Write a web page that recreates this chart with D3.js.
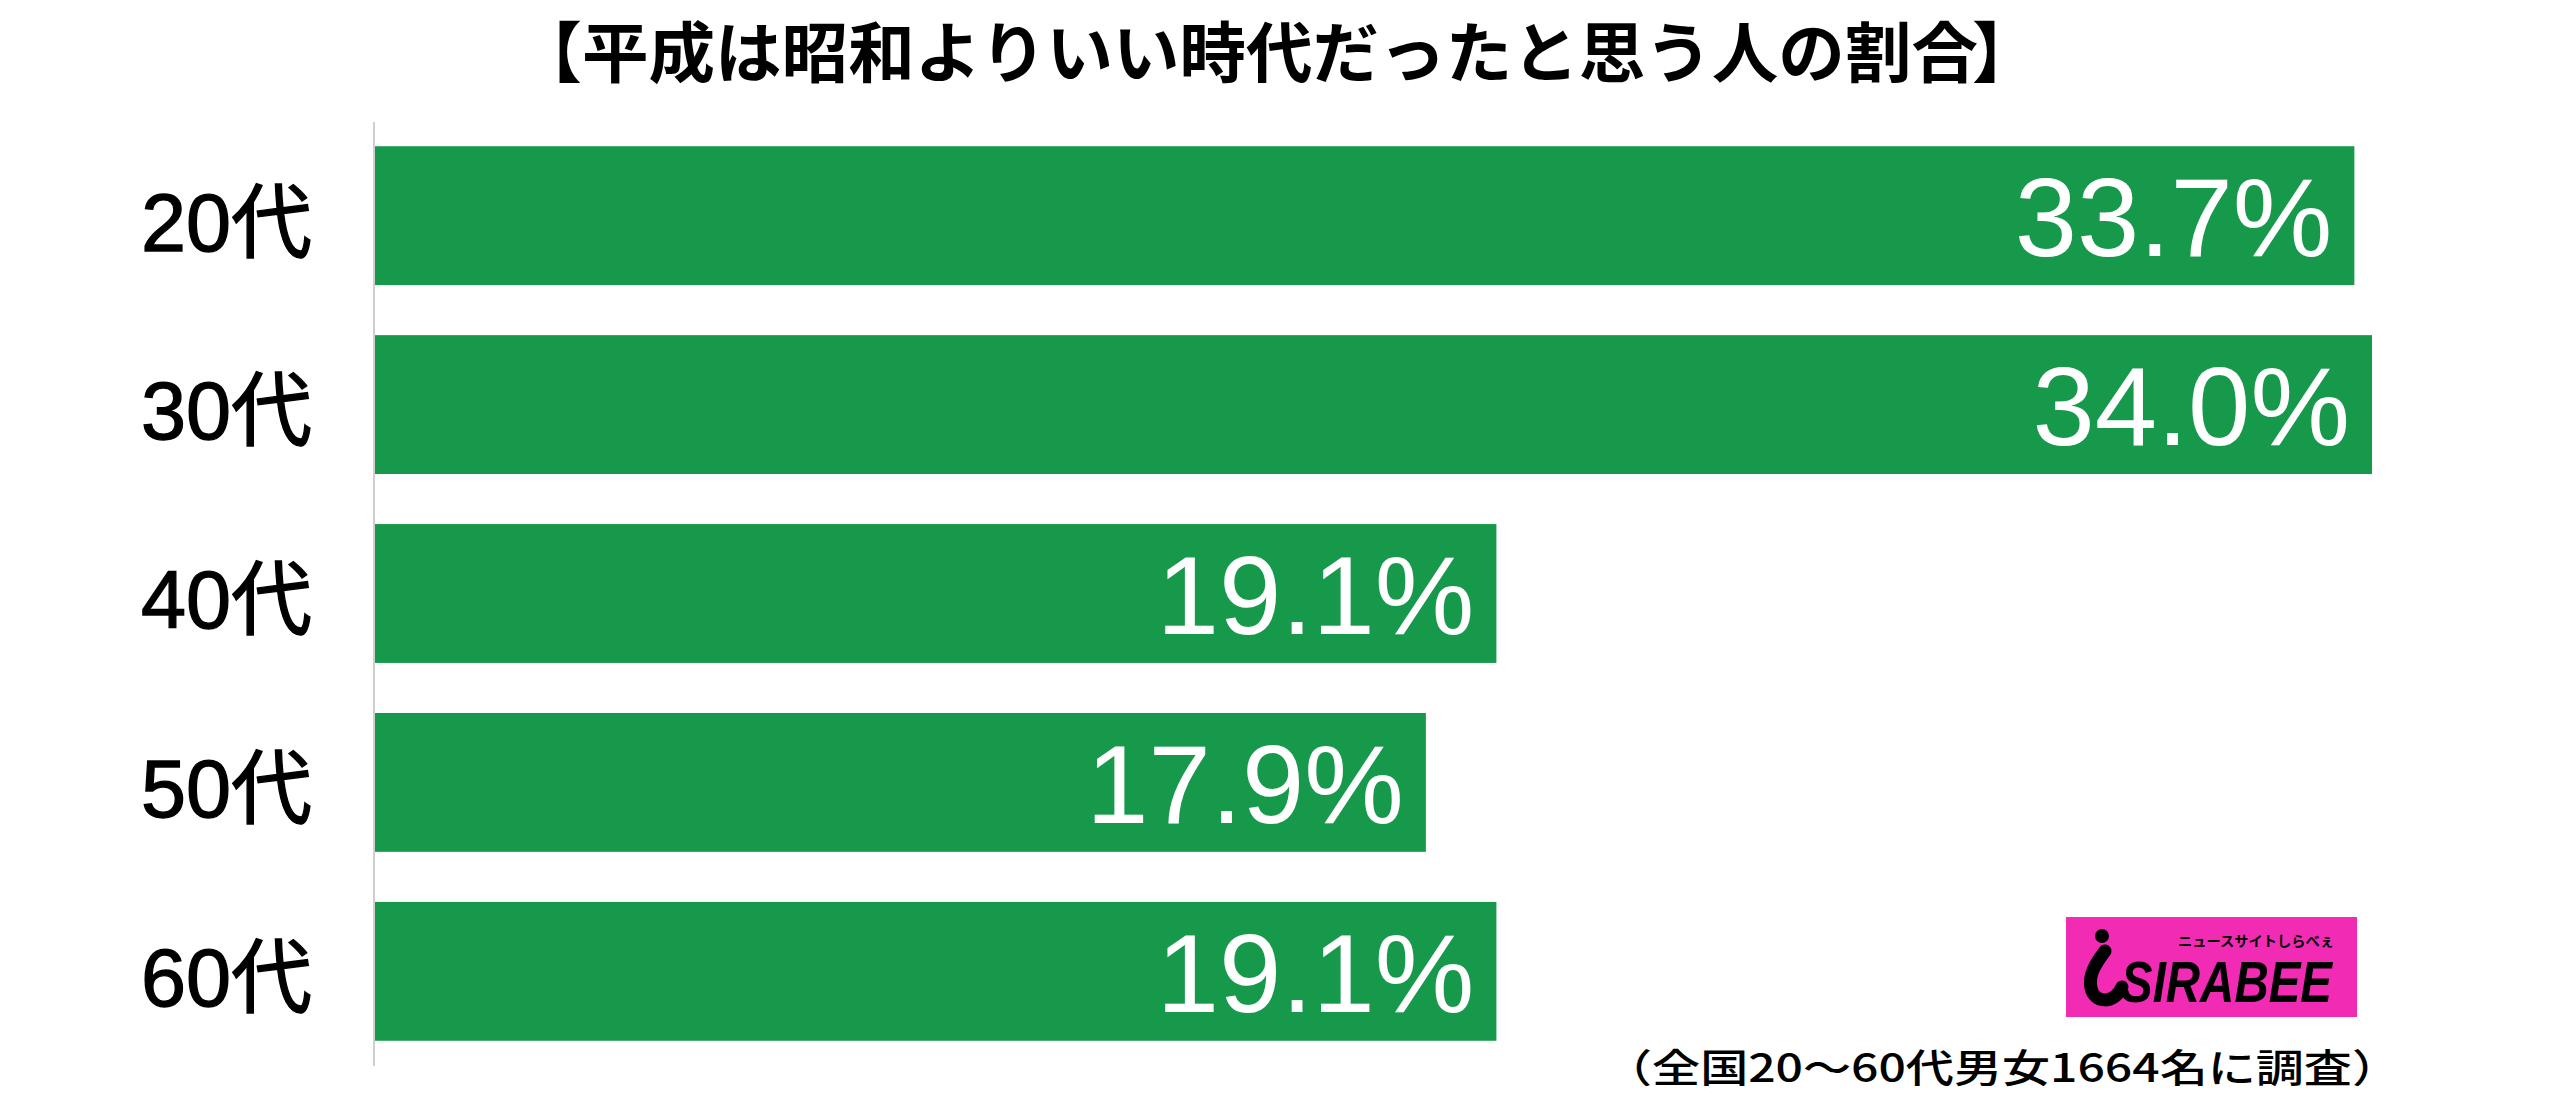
<!DOCTYPE html>
<html><head><meta charset="utf-8">
<script src="https://cdn.jsdelivr.net/npm/d3@7"></script>
<style>html,body{margin:0;padding:0;background:#fff;}svg{display:block;}</style>
</head><body>
<script>
const titleOpen = "【";
const title = "平成は昭和よりいい時代だったと思う人の割合";
const titleClose = "】";
const categories = ["20代", "30代", "40代", "50代", "60代"];
const values = [33.7, 34.0, 19.1, 17.9, 19.1];
const valueLabels = ["33.7%", "34.0%", "19.1%", "17.9%", "19.1%"];
const footnote = "（全国20～60代男女1664名に調査）";

const W = 2560, H = 1120;
const svg = d3.select("body").append("svg").attr("width", W).attr("height", H);

const x = d3.scaleLinear().domain([0, 34.0]).range([374, 2372]);
const y = d3.scaleBand().domain(categories).range([99, 1088]).paddingInner(0.265).paddingOuter(0.25);

// title
const tg = svg.append("g")
  .attr("font-family", "'Noto Sans CJK JP', sans-serif")
  .attr("font-weight", 700)
  .attr("font-size", 66)
  .attr("fill", "#000");
tg.append("text").attr("x", 582).attr("y", 77).attr("text-anchor", "end").text(titleOpen);
tg.append("text").attr("x", 582).attr("y", 77)
  .attr("textLength", 1396).attr("lengthAdjust", "spacingAndGlyphs").text(title);
tg.append("text").attr("x", 1972).attr("y", 77).text(titleClose);

// bars
svg.append("g").selectAll("rect").data(categories).join("rect")
  .attr("x", x(0))
  .attr("y", d => y(d))
  .attr("width", (d, i) => x(values[i]) - x(0))
  .attr("height", y.bandwidth())
  .attr("fill", "#17994C");

// axis line + category labels
const axis = d3.axisLeft(y).tickSize(0).tickPadding(62);
const ag = svg.append("g").attr("transform", `translate(${x(0)},0)`).call(axis);
ag.select(".domain").attr("stroke", "#cfcfcf").attr("stroke-width", 2)
  .attr("d", `M0,122V1066`);
ag.selectAll(".tick text")
  .attr("font-family", "'Liberation Sans', 'Noto Sans CJK JP', sans-serif")
  .attr("font-size", 81)
  .attr("fill", "#000")
  .attr("stroke", "#000")
  .attr("stroke-width", 1.3)
  .attr("dy", "0.43em");

// value labels
svg.append("g").selectAll("text").data(categories).join("text")
  .attr("x", (d, i) => x(values[i]) - 22)
  .attr("y", d => y(d) + y.bandwidth() / 2)
  .attr("dy", "0.36em")
  .attr("text-anchor", "end")
  .attr("font-family", "'Liberation Sans', sans-serif")
  .attr("font-size", 112)
  .attr("fill", "#fff")
  .text((d, i) => valueLabels[i]);

// logo
const logo = svg.append("g").attr("transform", "translate(2066,917)");
logo.append("rect").attr("width", 291).attr("height", 100).attr("fill", "#F22BB4");
logo.append("circle").attr("cx", 36).attr("cy", 19).attr("r", 7).attr("fill", "#000");
logo.append("path")
  .attr("d", "M39,34 C30,46 22,58 25,71 C28,86 48,88 56,70")
  .attr("fill", "none").attr("stroke", "#000").attr("stroke-width", 13).attr("stroke-linecap", "round");
logo.append("text")
  .attr("x", 112).attr("y", 29)
  .attr("font-family", "'Noto Sans CJK JP', sans-serif")
  .attr("font-weight", 700)
  .attr("font-size", 14)
  .attr("textLength", 156)
  .attr("lengthAdjust", "spacingAndGlyphs")
  .attr("fill", "#000")
  .text("ニュースサイトしらべぇ");
logo.append("text")
  .attr("x", 55).attr("y", 85)
  .attr("font-family", "'Liberation Sans', sans-serif")
  .attr("font-weight", 700)
  .attr("font-style", "italic")
  .attr("font-size", 57)
  .attr("textLength", 211)
  .attr("lengthAdjust", "spacingAndGlyphs")
  .attr("fill", "#000")
  .text("SIRABEE");

// footnote
svg.append("text")
  .attr("x", 2400).attr("y", 1082)
  .attr("text-anchor", "end")
  .attr("font-family", "'Noto Sans CJK JP', sans-serif")
  .attr("font-weight", 500)
  .attr("font-size", 39)
  .attr("textLength", 796)
  .attr("lengthAdjust", "spacingAndGlyphs")
  .attr("fill", "#000")
  .text(footnote);
</script>
</body></html>
